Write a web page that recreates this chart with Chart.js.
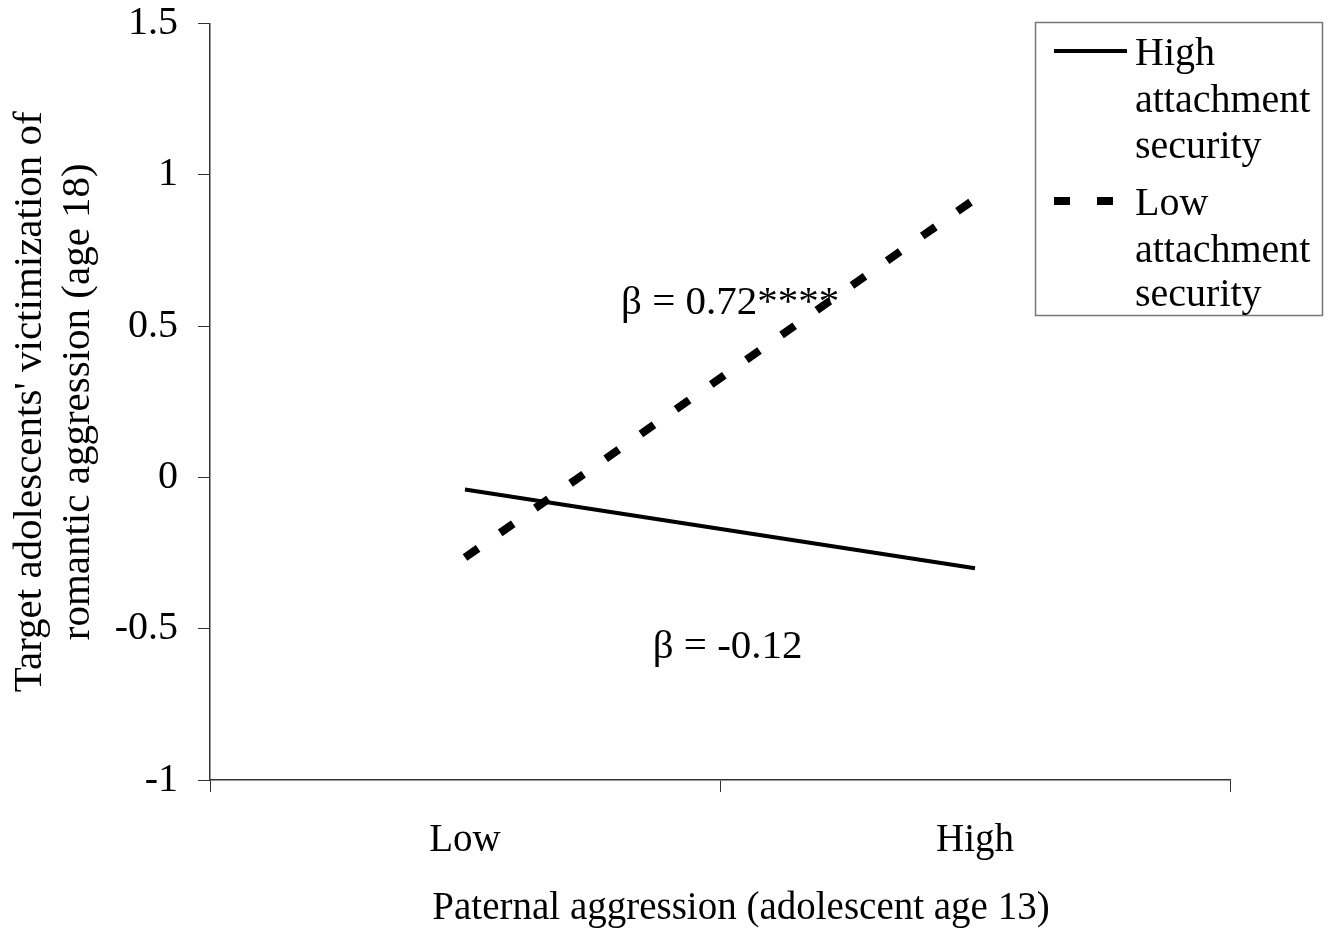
<!DOCTYPE html>
<html>
<head>
<meta charset="utf-8">
<script src="https://cdn.jsdelivr.net/npm/chart.js@4/dist/chart.umd.min.js"></script>
<style>
  body { margin: 0; background: #fff; }
  canvas { display: block; }
</style>
</head>
<body>
<canvas id="grafica" width="1333" height="930"></canvas>
<script>
// datos
const categorias = ["Low", "High"];
const apegoAlto = [-0.04, -0.30];   // High attachment security
const apegoBajo = [-0.265, 0.92];   // Low attachment security
const ticksY = [-1, -0.5, 0, 0.5, 1, 1.5];

const nombresSeries = [
  ["High", "attachment", "security"],
  ["Low", "attachment", "security"]
];
const tituloY = ["Target adolescents' victimization of", "romantic aggression (age 18)"];
const tituloX = "Paternal aggression (adolescent age 13)";

// textos de beta: [texto, posicion x en categorias, valor y]
const notas = [
  ["\u03B2 = 0.72****", 0.52, 0.575],
  ["\u03B2 = -0.12", 0.515, -0.56]
];

const FUENTE = "'Liberation Serif', 'Times New Roman', serif";
const TAM = 39;
const EJE = "#333";

// dibuja las notas, el titulo x y la leyenda
const extras = {
  id: "extras",
  afterDraw(chart) {
    const ctx = chart.ctx;
    const x = chart.scales.x, y = chart.scales.y;
    ctx.save();
    ctx.fillStyle = "#000";
    ctx.textAlign = "center";
    ctx.textBaseline = "middle";

    ctx.font = "41px " + FUENTE;
    notas.forEach(n => {
      ctx.fillText(n[0], x.getPixelForValue(n[1]), y.getPixelForValue(n[2]));
    });

    ctx.font = TAM + "px " + FUENTE;
    ctx.fillText(tituloX, 741, 909);

    // leyenda
    ctx.strokeStyle = "#777";
    ctx.lineWidth = 1.5;
    ctx.strokeRect(1035.5, 22.5, 287, 293);

    ctx.font = "40px " + FUENTE;
    const filas = [[65, 112, 158], [215, 262, 306]];
    const lineaY = [51, 201];
    chart.data.datasets.forEach((ds, i) => {
      ctx.save();
      ctx.strokeStyle = ds.borderColor;
      ctx.lineWidth = ds.borderWidth;
      ctx.setLineDash(ds.borderDash || []);
      ctx.beginPath();
      ctx.moveTo(1054, lineaY[i]);
      ctx.lineTo(1127, lineaY[i]);
      ctx.stroke();
      ctx.restore();

      ctx.textAlign = "left";
      ctx.textBaseline = "alphabetic";
      nombresSeries[i].forEach((t, j) => ctx.fillText(t, 1135, filas[i][j]));
    });
    ctx.restore();
  }
};

new Chart(document.getElementById("grafica"), {
  type: "line",
  data: {
    labels: categorias,
    datasets: [
      {
        label: "High attachment security",
        data: apegoAlto,
        borderColor: "#000",
        borderWidth: 4,
        pointRadius: 0,
        tension: 0
      },
      {
        label: "Low attachment security",
        data: apegoBajo,
        borderColor: "#000",
        borderWidth: 8,
        borderDash: [16, 27],
        borderCapStyle: "butt",
        pointRadius: 0,
        tension: 0
      }
    ]
  },
  plugins: [extras],
  options: {
    responsive: false,
    animation: false,
    layout: { padding: { top: 23.5, right: 103, left: 0, bottom: 0 } },
    plugins: {
      legend: { display: false },
      tooltip: { enabled: false }
    },
    scales: {
      x: {
        type: "category",
        offset: true,
        afterFit: s => { s.height = 150; s.paddingLeft = 0; s.paddingRight = 0; },
        grid: {
          offset: true,
          drawOnChartArea: false,
          drawTicks: true,
          tickLength: 12,
          color: EJE
        },
        border: { color: EJE, width: 1.5 },
        ticks: {
          color: "#000",
          padding: 25,
          maxRotation: 0,
          font: { family: FUENTE, size: TAM }
        }
      },
      y: {
        min: -1,
        max: 1.5,
        afterFit: s => { s.width = 210; s.paddingTop = 0; s.paddingBottom = 0; },
        afterBuildTicks: s => { s.ticks = ticksY.map(v => ({ value: v })); },
        grid: {
          drawOnChartArea: false,
          drawTicks: true,
          tickLength: 12,
          color: EJE
        },
        border: { color: EJE, width: 1.5 },
        ticks: {
          color: "#000",
          padding: 20,
          font: { family: FUENTE, size: 40 },
          callback: v => String(v)
        },
        title: {
          display: true,
          text: tituloY,
          color: "#000",
          font: { family: FUENTE, size: 41, lineHeight: 1.17 },
          padding: { top: 6, bottom: 0 }
        }
      }
    }
  }
});
</script>
</body>
</html>
